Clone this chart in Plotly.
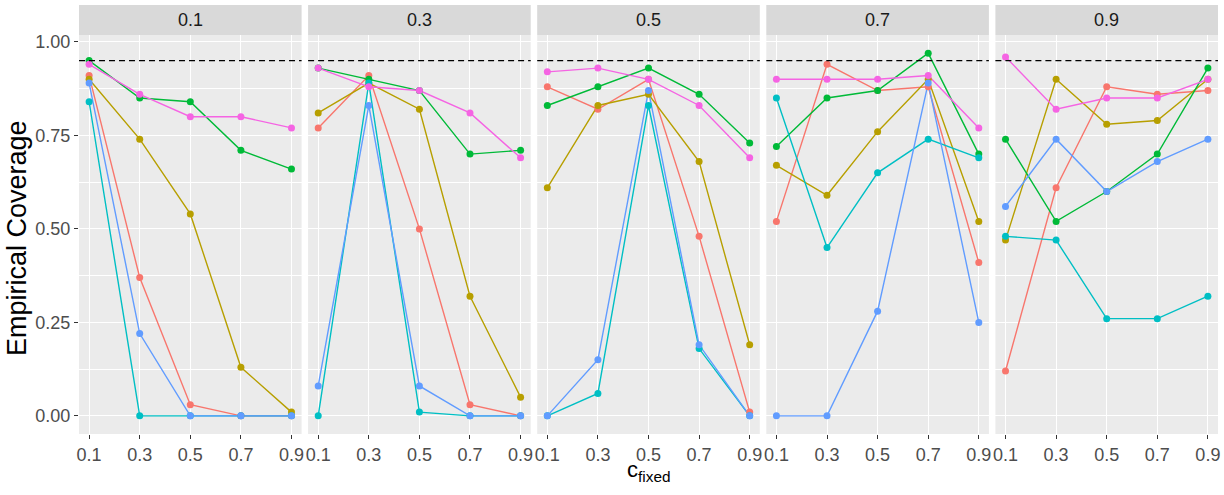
import plotly.graph_objects as go
from plotly.subplots import make_subplots

# facet values (top strips) and x positions inside each facet
facets = ["0.1", "0.3", "0.5", "0.7", "0.9"]
c_fixed = [0.1, 0.3, 0.5, 0.7, 0.9]

# one list per facet, values at c_fixed = 0.1 ... 0.9
grp1 = [[0.91, 0.37, 0.03, 0.00, 0.00],
        [0.77, 0.91, 0.50, 0.03, 0.00],
        [0.88, 0.82, 0.90, 0.48, 0.01],
        [0.52, 0.94, 0.87, 0.88, 0.41],
        [0.12, 0.61, 0.88, 0.86, 0.87]]
grp2 = [[0.90, 0.74, 0.54, 0.13, 0.01],
        [0.81, 0.89, 0.82, 0.32, 0.05],
        [0.61, 0.83, 0.86, 0.68, 0.19],
        [0.67, 0.59, 0.76, 0.90, 0.52],
        [0.47, 0.90, 0.78, 0.79, 0.90]]
grp3 = [[0.95, 0.85, 0.84, 0.71, 0.66],
        [0.93, 0.90, 0.87, 0.70, 0.71],
        [0.83, 0.88, 0.93, 0.86, 0.73],
        [0.72, 0.85, 0.87, 0.97, 0.70],
        [0.74, 0.52, 0.60, 0.70, 0.93]]
grp4 = [[0.84, 0.00, 0.00, 0.00, 0.00],
        [0.00, 0.89, 0.01, 0.00, 0.00],
        [0.00, 0.06, 0.83, 0.18, 0.00],
        [0.85, 0.45, 0.65, 0.74, 0.69],
        [0.48, 0.47, 0.26, 0.26, 0.32]]
grp5 = [[0.89, 0.22, 0.00, 0.00, 0.00],
        [0.08, 0.83, 0.08, 0.00, 0.00],
        [0.00, 0.15, 0.87, 0.19, 0.00],
        [0.00, 0.00, 0.28, 0.89, 0.25],
        [0.56, 0.74, 0.60, 0.68, 0.74]]
grp6 = [[0.94, 0.86, 0.80, 0.80, 0.77],
        [0.93, 0.88, 0.87, 0.81, 0.69],
        [0.92, 0.93, 0.90, 0.83, 0.69],
        [0.90, 0.90, 0.90, 0.91, 0.77],
        [0.96, 0.82, 0.85, 0.85, 0.90]]

groups = [grp1, grp2, grp3, grp4, grp5, grp6]
colors = ["#F8766D", "#B79F00", "#00BA38", "#00BFC4", "#619CFF", "#F564E3"]
target = 0.95

y_ticks = [0, 0.25, 0.5, 0.75, 1.0]
y_ticktext = ["0.00", "0.25", "0.50", "0.75", "1.00"]

FONT = "Liberation Sans, Arial, sans-serif"

fig = make_subplots(rows=1, cols=5, shared_yaxes=True, horizontal_spacing=0.0057)

for j in range(5):
    # lines first, then points (like geom_line + geom_point)
    for g, col in zip(groups, colors):
        fig.add_trace(go.Scatter(x=c_fixed, y=g[j], mode="lines",
                                 line=dict(color=col, width=1.4),
                                 showlegend=False, hoverinfo="skip"),
                      row=1, col=j + 1)
    for g, col in zip(groups, colors):
        fig.add_trace(go.Scatter(x=c_fixed, y=g[j], mode="markers",
                                 marker=dict(color=col, size=7),
                                 showlegend=False),
                      row=1, col=j + 1)
    fig.add_hline(y=target, line=dict(color="black", width=1.3, dash="6px,4px"),
                  row=1, col=j + 1)

panel_h = 399 / 429
strip_h = 30 / 399

for j in range(5):
    ax = "x" if j == 0 else "x%d" % (j + 1)
    ay = "y" if j == 0 else "y%d" % (j + 1)
    fig.add_shape(type="rect", xref=ax + " domain", yref=ay + " domain",
                  x0=0, x1=1, y0=1, y1=1 + strip_h,
                  fillcolor="#D9D9D9", line=dict(width=0), layer="below")
    fig.add_annotation(text=facets[j], xref=ax + " domain", yref=ay + " domain",
                       x=0.5, y=1 + strip_h / 2, xanchor="center", yanchor="middle",
                       showarrow=False,
                       font=dict(size=18, color="#1A1A1A", family=FONT))

fig.update_xaxes(range=[0.06, 0.94], tickvals=c_fixed,
                 ticktext=["0.1", "0.3", "0.5", "0.7", "0.9"],
                 showgrid=True, gridcolor="white", gridwidth=1.2,
                 zeroline=False, ticks="outside", ticklen=4, tickwidth=1,
                 tickcolor="#333333", tickfont=dict(size=18, color="#4D4D4D", family=FONT),
                 showline=False, automargin=False)
fig.update_yaxes(range=[-0.0485, 1.0185], tickvals=y_ticks, ticktext=y_ticktext,
                 showgrid=True, gridcolor="white", gridwidth=1.2, zeroline=False,
                 minor=dict(tickvals=[0.125, 0.375, 0.625, 0.875], showgrid=True,
                            gridcolor="white", gridwidth=0.6, ticks=""),
                 domain=[0, panel_h], showline=False, automargin=False,
                 tickfont=dict(size=18, color="#4D4D4D", family=FONT))
fig.update_yaxes(ticks="outside", ticklen=4, tickwidth=1, tickcolor="#333333",
                 row=1, col=1)

fig.add_annotation(text="Empirical Coverage", xref="paper", yref="paper",
                   x=-0.0544, y=0.457, xanchor="center", yanchor="middle",
                   textangle=-90, showarrow=False,
                   font=dict(size=27, color="black", family=FONT))
fig.add_annotation(text="c<sub>fixed</sub>", xref="paper", yref="paper",
                   x=0.5, y=-0.086, xanchor="center", yanchor="middle", showarrow=False,
                   font=dict(size=22, color="black", family=FONT))

fig.update_layout(width=1224, height=495, plot_bgcolor="#EBEBEB",
                  paper_bgcolor="white",
                  margin=dict(l=79, r=6, t=5, b=61, autoexpand=False),
                  font=dict(family=FONT))

fig.write_html("out.html", config={"displayModeBar": False},
               post_script="document.body.style.margin = '0';")
